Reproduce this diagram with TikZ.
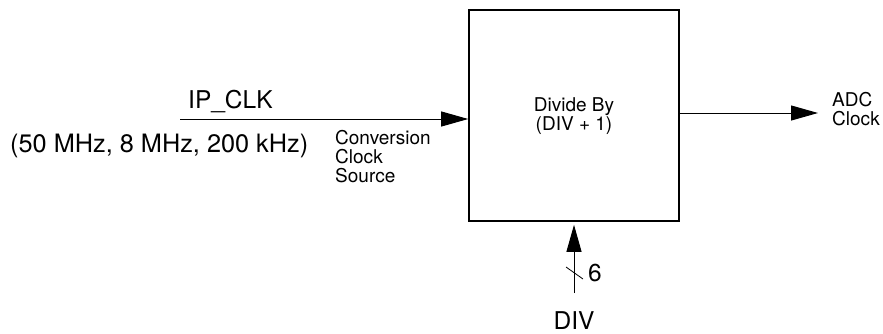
\documentclass[tikz,border=0pt]{standalone}
\usepackage{fontspec}
\setmainfont{TeX Gyre Heros}
\usetikzlibrary{arrows.meta}
\begin{document}
\begin{tikzpicture}[x=1pt,y=-1pt,
  big/.style={inner sep=0pt,font=\fontsize{24.5}{28}\selectfont},
  small/.style={inner sep=0pt,font=\fontsize{19}{18.8}\selectfont,align=left},
  wire/.style={line width=1pt,-{Triangle[length=27pt,width=15pt]}}]
\useasboundingbox (0,0) rectangle (883,333);
\node[draw,line width=1.6pt,minimum width=210pt,minimum height=211pt,inner sep=0pt] (box) at (574,115.5) {};
\node[small,align=center,anchor=base] (divtxt) at (574,130) {Divide By\\(DIV + 1)};
\node[big,anchor=base west] (ipclk) at (188,108) {IP\_CLK};
\node[big,anchor=base west,font=\fontsize{25.3}{28}\selectfont] (freq) at (10,152) {(50 MHz, 8 MHz, 200 kHz)};
\node[small,anchor=base west] (conv) at (335,182) {Conversion\\Clock\\Source};
\node[small,anchor=base west] (adc) at (832,125) {ADC\\Clock};
\node[big,anchor=base] (div) at (574,329) {DIV};
\node[big,anchor=base west] (six) at (588,281) {6};
\coordinate (inS) at (180,119);
\coordinate (outE) at (818,113);
\coordinate (divS) at (574,293);
\draw[wire] (inS) -- (inS -| box.west);
\draw[wire] (outE -| box.east) -- (outE);
\draw[wire] (divS) -- ([yshift=-3pt]box.south);
\coordinate (s1) at (566,267);
\coordinate (s2) at (583,279);
\draw[line width=0.8pt] (s1) -- (s2);
\end{tikzpicture}
\end{document}
